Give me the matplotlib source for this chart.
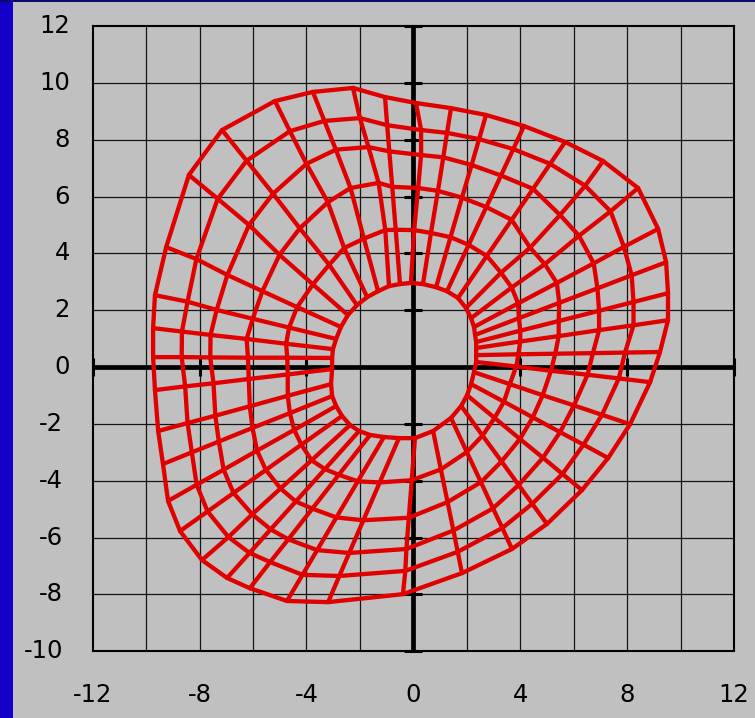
import matplotlib
matplotlib.use("Agg")
import matplotlib.pyplot as plt
from matplotlib.patches import Rectangle
from matplotlib.transforms import blended_transform_factory, offset_copy

# ---- mesh nodes (40 spokes, 6 rings: ring0 = inner, ring5 = outer) ----
ring0_x = [-0.91, -0.50, -0.09, 0.36, 0.85, 1.26, 1.67, 1.97, 2.16, 2.27,
           2.31, 2.35, 2.35, 2.35, 2.35, 2.27, 2.16, 2.01, 1.79, 1.41,
           0.74, 0.06, -0.54, -1.10, -1.62, -2.03, -2.37, -2.67, -2.89, -3.04,
           -3.08, -3.04, -3.04, -3.01, -2.89, -2.71, -2.45, -2.11, -1.73, -1.32]
ring0_y = [2.85, 2.92, 2.96, 2.92, 2.81, 2.67, 2.43, 2.08, 1.72, 1.41,
           1.13, 0.88, 0.67, 0.42, 0.18, -0.18, -0.60, -0.99, -1.37, -1.79,
           -2.25, -2.50, -2.50, -2.46, -2.39, -2.25, -2.04, -1.72, -1.37, -1.02,
           -0.60, -0.07, 0.32, 0.63, 0.99, 1.41, 1.83, 2.18, 2.46, 2.67]

ring1_x = [-1.05, -0.66, 0.03, 0.66, 1.39, 2.07, 2.75, 3.28, 3.68, 3.92,
           3.95, 4.00, 4.00, 3.93, 3.85, 3.61, 3.39, 3.04, 2.59, 2.00,
           1.03, -0.06, -1.26, -2.08, -2.79, -3.31, -3.81, -4.19, -4.46, -4.62,
           -4.70, -4.70, -4.72, -4.76, -4.65, -4.35, -3.76, -3.15, -2.59, -1.85]
ring1_y = [4.82, 4.83, 4.82, 4.72, 4.57, 4.30, 3.91, 3.32, 2.80, 2.24,
           1.72, 1.28, 0.90, 0.45, 0.02, -0.60, -1.22, -1.79, -2.41, -2.99,
           -3.60, -3.98, -4.06, -4.02, -3.79, -3.59, -3.28, -2.73, -2.21, -1.62,
           -1.01, -0.26, 0.33, 0.82, 1.39, 2.11, 2.91, 3.60, 4.19, 4.52]

ring2_x = [-1.30, -0.79, 0.18, 0.92, 1.82, 2.73, 3.68, 4.37, 4.92, 5.37,
           5.46, 5.44, 5.44, 5.31, 5.15, 4.84, 4.47, 3.99, 3.30, 2.53,
           1.28, -0.17, -1.87, -2.88, -3.78, -4.40, -4.97, -5.52, -5.85, -6.02,
           -6.12, -6.16, -6.19, -6.24, -6.01, -5.65, -5.01, -4.25, -3.20, -2.35]
ring2_y = [6.48, 6.34, 6.30, 6.20, 5.96, 5.63, 5.18, 4.20, 3.62, 2.96,
           2.26, 1.62, 1.09, 0.47, -0.13, -0.99, -1.77, -2.53, -3.32, -4.05,
           -4.75, -5.30, -5.39, -5.29, -4.98, -4.73, -4.27, -3.62, -2.94, -2.14,
           -1.38, -0.42, 0.33, 0.99, 1.70, 2.67, 3.95, 4.88, 5.80, 6.30]

ring3_x = [-1.68, -0.90, 0.29, 1.12, 2.18, 3.28, 4.48, 5.49, 6.20, 6.75,
           6.89, 6.95, 6.95, 6.72, 6.52, 6.01, 5.49, 4.85, 3.94, 2.98,
           1.50, -0.26, -2.40, -3.60, -4.68, -5.34, -6.03, -6.73, -7.10, -7.28,
           -7.41, -7.48, -7.60, -7.59, -7.36, -6.96, -6.15, -5.25, -4.00, -2.90]
ring3_y = [7.74, 7.59, 7.46, 7.38, 7.11, 6.74, 6.27, 5.35, 4.62, 3.65,
           2.77, 1.98, 1.30, 0.49, -0.27, -1.35, -2.29, -3.19, -4.15, -4.97,
           -5.75, -6.40, -6.54, -6.44, -6.06, -5.71, -5.18, -4.43, -3.61, -2.62,
           -1.71, -0.57, 0.34, 1.13, 2.01, 3.24, 5.00, 6.10, 7.15, 7.65]

ring4_x = [-2.00, -0.98, 0.29, 1.26, 2.46, 3.74, 5.12, 6.43, 7.38, 7.88,
           8.17, 8.24, 8.24, 7.92, 7.69, 7.06, 6.37, 5.58, 4.45, 3.33,
           1.66, -0.30, -2.77, -4.15, -5.36, -6.13, -6.92, -7.70, -8.11, -8.29,
           -8.45, -8.54, -8.67, -8.66, -8.45, -8.12, -7.32, -6.24, -4.62, -3.33]
ring4_y = [8.76, 8.51, 8.34, 8.24, 8.02, 7.67, 7.15, 6.38, 5.48, 4.23,
           3.23, 2.29, 1.47, 0.51, -0.40, -1.68, -2.73, -3.76, -4.81, -5.66,
           -6.50, -7.17, -7.35, -7.31, -6.86, -6.54, -5.98, -5.08, -4.14, -3.00,
           -1.97, -0.68, 0.35, 1.25, 2.30, 3.80, 5.92, 7.26, 8.30, 8.66]

ring5_x = [-2.26, -1.06, 0.10, 1.41, 2.72, 4.14, 5.68, 7.10, 8.41, 9.16,
           9.46, 9.53, 9.53, 9.23, 8.86, 8.11, 7.29, 6.31, 5.00, 3.69,
           1.82, -0.39, -3.19, -4.73, -6.12, -6.97, -7.91, -8.73, -9.18, -9.37,
           -9.55, -9.67, -9.74, -9.74, -9.67, -9.25, -8.40, -7.16, -5.18, -3.76]
ring5_y = [9.82, 9.50, 9.29, 9.11, 8.87, 8.48, 7.92, 7.25, 6.30, 4.86,
           3.69, 2.60, 1.65, 0.53, -0.53, -2.01, -3.20, -4.33, -5.52, -6.40,
           -7.25, -7.99, -8.27, -8.23, -7.78, -7.42, -6.79, -5.77, -4.71, -3.41,
           -2.25, -0.81, 0.35, 1.37, 2.53, 4.22, 6.76, 8.34, 9.36, 9.68]

x_tick_values = [-12, -8, -4, 0, 4, 8, 12]
y_tick_values = [-10, -8, -6, -4, -2, 0, 2, 4, 6, 8, 10, 12]
grid_x_values = [-10, -8, -6, -4, -2, 2, 4, 6, 8, 10]
grid_y_values = [-8, -6, -4, -2, 2, 4, 6, 8, 10]
axis_x_marks = [-12, -8, -4, 4, 8, 12]
axis_y_marks = [-10, -8, -6, -4, -2, 2, 4, 6, 8, 10, 12]

rings_x = [ring0_x, ring1_x, ring2_x, ring3_x, ring4_x, ring5_x]
rings_y = [ring0_y, ring1_y, ring2_y, ring3_y, ring4_y, ring5_y]

W, H = 755, 718
fig = plt.figure(figsize=(W / 100, H / 100), dpi=100)
fig.patch.set_facecolor('#C0C0C0')
fig.patches.append(Rectangle((0, 0), 13 / W, 1, transform=fig.transFigure,
                             facecolor='#1400C8', edgecolor='none', zorder=0))
fig.patches.append(Rectangle((0, 1 - 2 / H), 1, 2 / H, transform=fig.transFigure,
                             facecolor='#0A0A70', edgecolor='none', zorder=0))

left, right, top, bottom = 92.7, 734.0, 26.0, 651.3
ax = fig.add_axes([left / W, (H - bottom) / H, (right - left) / W, (bottom - top) / H])
ax.set_facecolor('#C0C0C0')
ax.set_xlim(-12, 12)
ax.set_ylim(-10, 12)
ax.set_xticks([])
ax.set_yticks([])
for s in ax.spines.values():
    s.set_linewidth(1.5)
    s.set_color('black')

for gx in grid_x_values:
    ax.axvline(gx, color='#151515', lw=0.9, zorder=1)
for gy in grid_y_values:
    ax.axhline(gy, color='#151515', lw=0.9, zorder=1)

# central axes with cross tick marks
ax.axhline(0, color='black', lw=3.4, zorder=2)
ax.axvline(0, color='black', lw=3.4, zorder=2)
ax.plot([0] * len(axis_y_marks), axis_y_marks, ls='none', marker='_', ms=12.5,
        mew=2.2, color='black', zorder=2, clip_on=False)
ax.plot(axis_x_marks, [0] * len(axis_x_marks), ls='none', marker='|', ms=12.5,
        mew=2.2, color='black', zorder=2, clip_on=False)

red = '#E00000'
# rings (closed)
for rx, ry in zip(rings_x, rings_y):
    ax.plot(list(rx) + [rx[0]], list(ry) + [ry[0]], color=red, lw=3.1,
            solid_joinstyle='round', solid_capstyle='round', zorder=4)
# spokes
for j in range(len(ring0_x)):
    ax.plot([r[j] for r in rings_x], [r[j] for r in rings_y], color=red, lw=3.1,
            solid_joinstyle='round', solid_capstyle='round', zorder=4)

# tick labels
fs = 17.5
ytrans = blended_transform_factory(ax.transAxes, ax.transData)
for v in y_tick_values:
    dx = -29.7 if v < 0 else -22.7
    ax.text(0, v, str(v), transform=offset_copy(ytrans, fig=fig, x=dx, y=0, units='dots'),
            ha='right', va='center', fontsize=fs, family='DejaVu Sans', color='black')
xtrans = blended_transform_factory(ax.transData, ax.transAxes)
for v in x_tick_values:
    ax.text(v, 0, str(v), transform=offset_copy(xtrans, fig=fig, x=0, y=-44, units='dots'),
            ha='center', va='center', fontsize=fs, family='DejaVu Sans', color='black')

fig.savefig('out.png', dpi=100, facecolor=fig.get_facecolor())
